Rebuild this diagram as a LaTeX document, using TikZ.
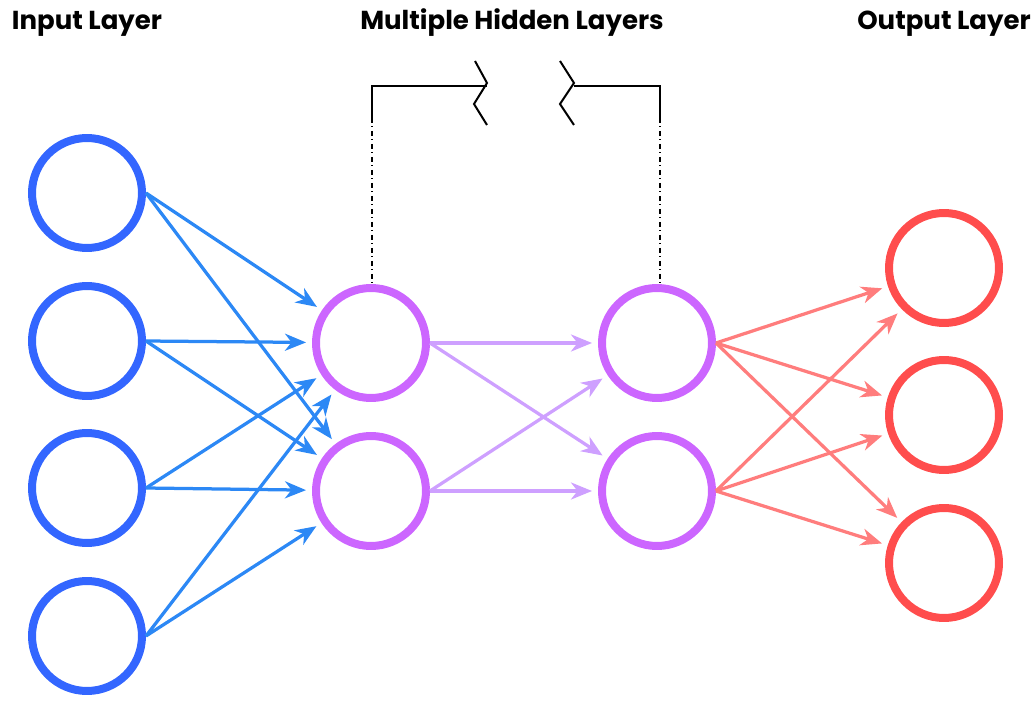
\documentclass[tikz,border=0pt]{standalone}
\usepackage{fontspec}
\setmainfont{Poppins}
\usepackage{tikz}
\usetikzlibrary{
  % enables the Stealth tips
  arrows.meta,%
  calc
}
\definecolor{inblue}{RGB}{51,102,255}
\definecolor{inarrow}{RGB}{44,136,245}
\definecolor{hidpurple}{RGB}{204,102,255}
\definecolor{hidarrow}{RGB}{206,160,255}
\definecolor{outred}{RGB}{255,77,77}
\definecolor{outarrow}{RGB}{255,125,125}
\tikzset{>={Stealth[length=0.42cm,width=0.34cm,inset=0.13cm]}}
\tikzset{neuron/.style={circle, draw, line width=0.16cm, minimum size=2.2cm, inner sep=0pt},
  link/.style={->, line width=0.065cm, shorten >=0.12cm},
  title/.style={anchor=base, font=\bfseries\fontsize{14.8}{17}\selectfont},
  bracket/.style={line width=0.04cm, line join=miter},
  guide/.style={line width=0.025cm, dash pattern=on 0.1cm off 0.07cm on 0.02cm off 0.07cm}}

\begin{document}
\begin{tikzpicture}[x=0.02cm, y=-0.02cm]
  \useasboundingbox (0,0) rectangle (1035,702);
  % layers
  \foreach \i/\y in {1/193,2/341,3/488,4/636}
    \node[neuron, inblue] (in\i) at (87,\y) {};
  \foreach \i/\y in {1/343,2/491}{
    \node[neuron, hidpurple] (ha\i) at (371,\y) {};
    \node[neuron, hidpurple] (hb\i) at (657,\y) {};
  }
  \foreach \i/\y in {1/268,2/415,3/563}
    \node[neuron, outred] (out\i) at (944,\y) {};
  % connections
  \foreach \i in {1,...,4}
    \foreach \j in {1,2}
      \draw[link, inarrow] (in\i.east) -- (ha\j);
  \foreach \i in {1,2}
    \foreach \j in {1,2}
      \draw[link, hidarrow] (ha\i.east) -- (hb\j);
  \foreach \i in {1,2}
    \foreach \j in {1,2,3}
      \draw[link, outarrow] (hb\i.east) -- (out\j);
  % titles
  \node[title] (tin) at (87,30) {Input Layer};
  \node[title] (thid) at (512,30) {Multiple Hidden Layers};
  \node[title] (tout) at (944,30) {Output Layer};
  % broken bracket over the hidden layers
  \coordinate (la) at (372,118);
  \coordinate (ra) at (660,118);
  \draw[bracket] (la) -- (372,86) -- (487,86);
  \draw[bracket] (475,61) -- (487,83) -- (474,104) -- (487,125);
  \draw[bracket] (ra) -- (660,86) -- (574,86);
  \draw[bracket] (560,61) -- (574,83) -- (560,104) -- (574,125);
  \draw[guide] (la) -- (372,284);
  \draw[guide] (ra) -- (660,284);
\end{tikzpicture}
\end{document}
